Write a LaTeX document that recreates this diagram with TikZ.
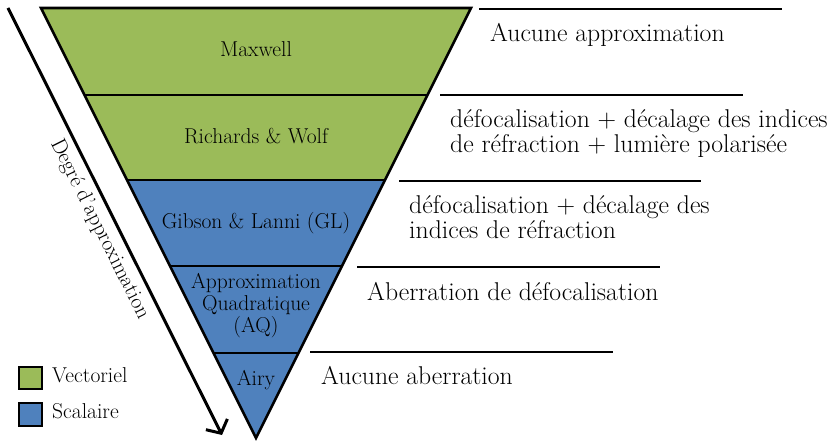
\documentclass[tikz,border=0pt]{standalone}
\usepackage{fontspec}
\usetikzlibrary{arrows.meta}
\definecolor{vecgreen}{RGB}{155,187,89}
\definecolor{scalblue}{RGB}{79,129,189}
\tikzset{
  band/.style={draw=black,line width=2.6pt,line join=miter},
  sepline/.style={line width=2.4pt},
  sepshadow/.style={black!22,line width=2.6pt},
  inlabel/.style={font=\fontsize{21.5}{22}\selectfont,align=center,anchor=base,inner sep=0pt},
  outlabel/.style={font=\fontsize{25.7}{25}\selectfont,align=left,anchor=base west,inner sep=0pt},
  keybox/.style={draw=black,line width=2.4pt},
}
\begin{document}
\begin{tikzpicture}[x=1pt,y=-1pt]
  \useasboundingbox (0,0) rectangle (832,441);
  % corners of the funnel
  \coordinate (tl) at (41,8);
  \coordinate (tr) at (471,8);
  \coordinate (apex) at (256,438);
  \coordinate (l1) at (84.5,95);
  \coordinate (r1) at (427.5,95);
  \coordinate (l2) at (127,180);
  \coordinate (r2) at (385,180);
  \coordinate (l3) at (170,266);
  \coordinate (r3) at (342,266);
  \coordinate (l4) at (213.5,353);
  \coordinate (r4) at (298.5,353);
  \fill[vecgreen] (tl)--(tr)--(r2)--(l2)--cycle;
  \fill[scalblue] (l2)--(r2)--(apex)--cycle;
  \draw[sepline] (l1)--(r1);
  \draw[sepline] (l2)--(r2);
  \draw[sepline] (l3)--(r3);
  \draw[sepline] (l4)--(r4);
  \draw[band] (tl)--(tr)--(apex)--cycle;
  \node[inlabel] (maxwell) at (256,57) {Maxwell};
  \node[inlabel] (rw) at (256,143) {Richards \& Wolf};
  \node[inlabel] (gl) at (256,228) {Gibson \& Lanni (GL)};
  % base of a multi-line node is its last line
  \node[inlabel] (aq) at (256,332) {Approximation\\Quadratique\\(AQ)};
  \node[inlabel] (airy) at (256,385) {Airy};
  % lines on the right
  \coordinate (s1a) at (479,9);   \coordinate (s1b) at (782,9);
  \coordinate (s2a) at (440,95);  \coordinate (s2b) at (743,95);
  \coordinate (s3a) at (399,181); \coordinate (s3b) at (701,181);
  \coordinate (s4a) at (357,267); \coordinate (s4b) at (660,267);
  \coordinate (s5a) at (310,352); \coordinate (s5b) at (613,352);
  \begin{scope}[shift={(1,1.6)}]
    \draw[sepshadow] (s1a)--(s1b);
    \draw[sepshadow] (s2a)--(s2b);
    \draw[sepshadow] (s3a)--(s3b);
    \draw[sepshadow] (s4a)--(s4b);
    \draw[sepshadow] (s5a)--(s5b);
  \end{scope}
  \draw[sepline] (s1a)--(s1b);
  \draw[sepline] (s2a)--(s2b);
  \draw[sepline] (s3a)--(s3b);
  \draw[sepline] (s4a)--(s4b);
  \draw[sepline] (s5a)--(s5b);
  \node[outlabel] (t1) at (490,42) {Aucune approximation};
  \node[outlabel] (t2) at (450,153)
    {défocalisation + décalage des indices\\de réfraction + lumière polarisée};
  \node[outlabel] (t3) at (409,238)
    {défocalisation + décalage des\\indices de réfraction};
  \node[outlabel] (t4) at (367,300) {Aberration de défocalisation};
  \node[outlabel] (t5) at (321,384) {Aucune aberration};
  % arrow on the left
  \coordinate (a0) at (8,8);
  \coordinate (a1) at (222,435);
  \draw[line width=3pt,-{Straight Barb[length=10pt,width=24pt]}] (a0)--(a1)
    node[midway,sloped,below=6pt,inner sep=0pt,
      font=\fontsize{21.5}{22}\selectfont] (deg) {Degré d'approximation};
  % key
  \draw[keybox,fill=vecgreen] (19,367) rectangle (42,389);
  \draw[keybox,fill=scalblue] (19,403) rectangle (42,426);
  \node[inlabel,anchor=base west] (vec) at (52,382) {Vectoriel};
  \node[inlabel,anchor=base west] (sca) at (52,418) {Scalaire};
\end{tikzpicture}
\end{document}
